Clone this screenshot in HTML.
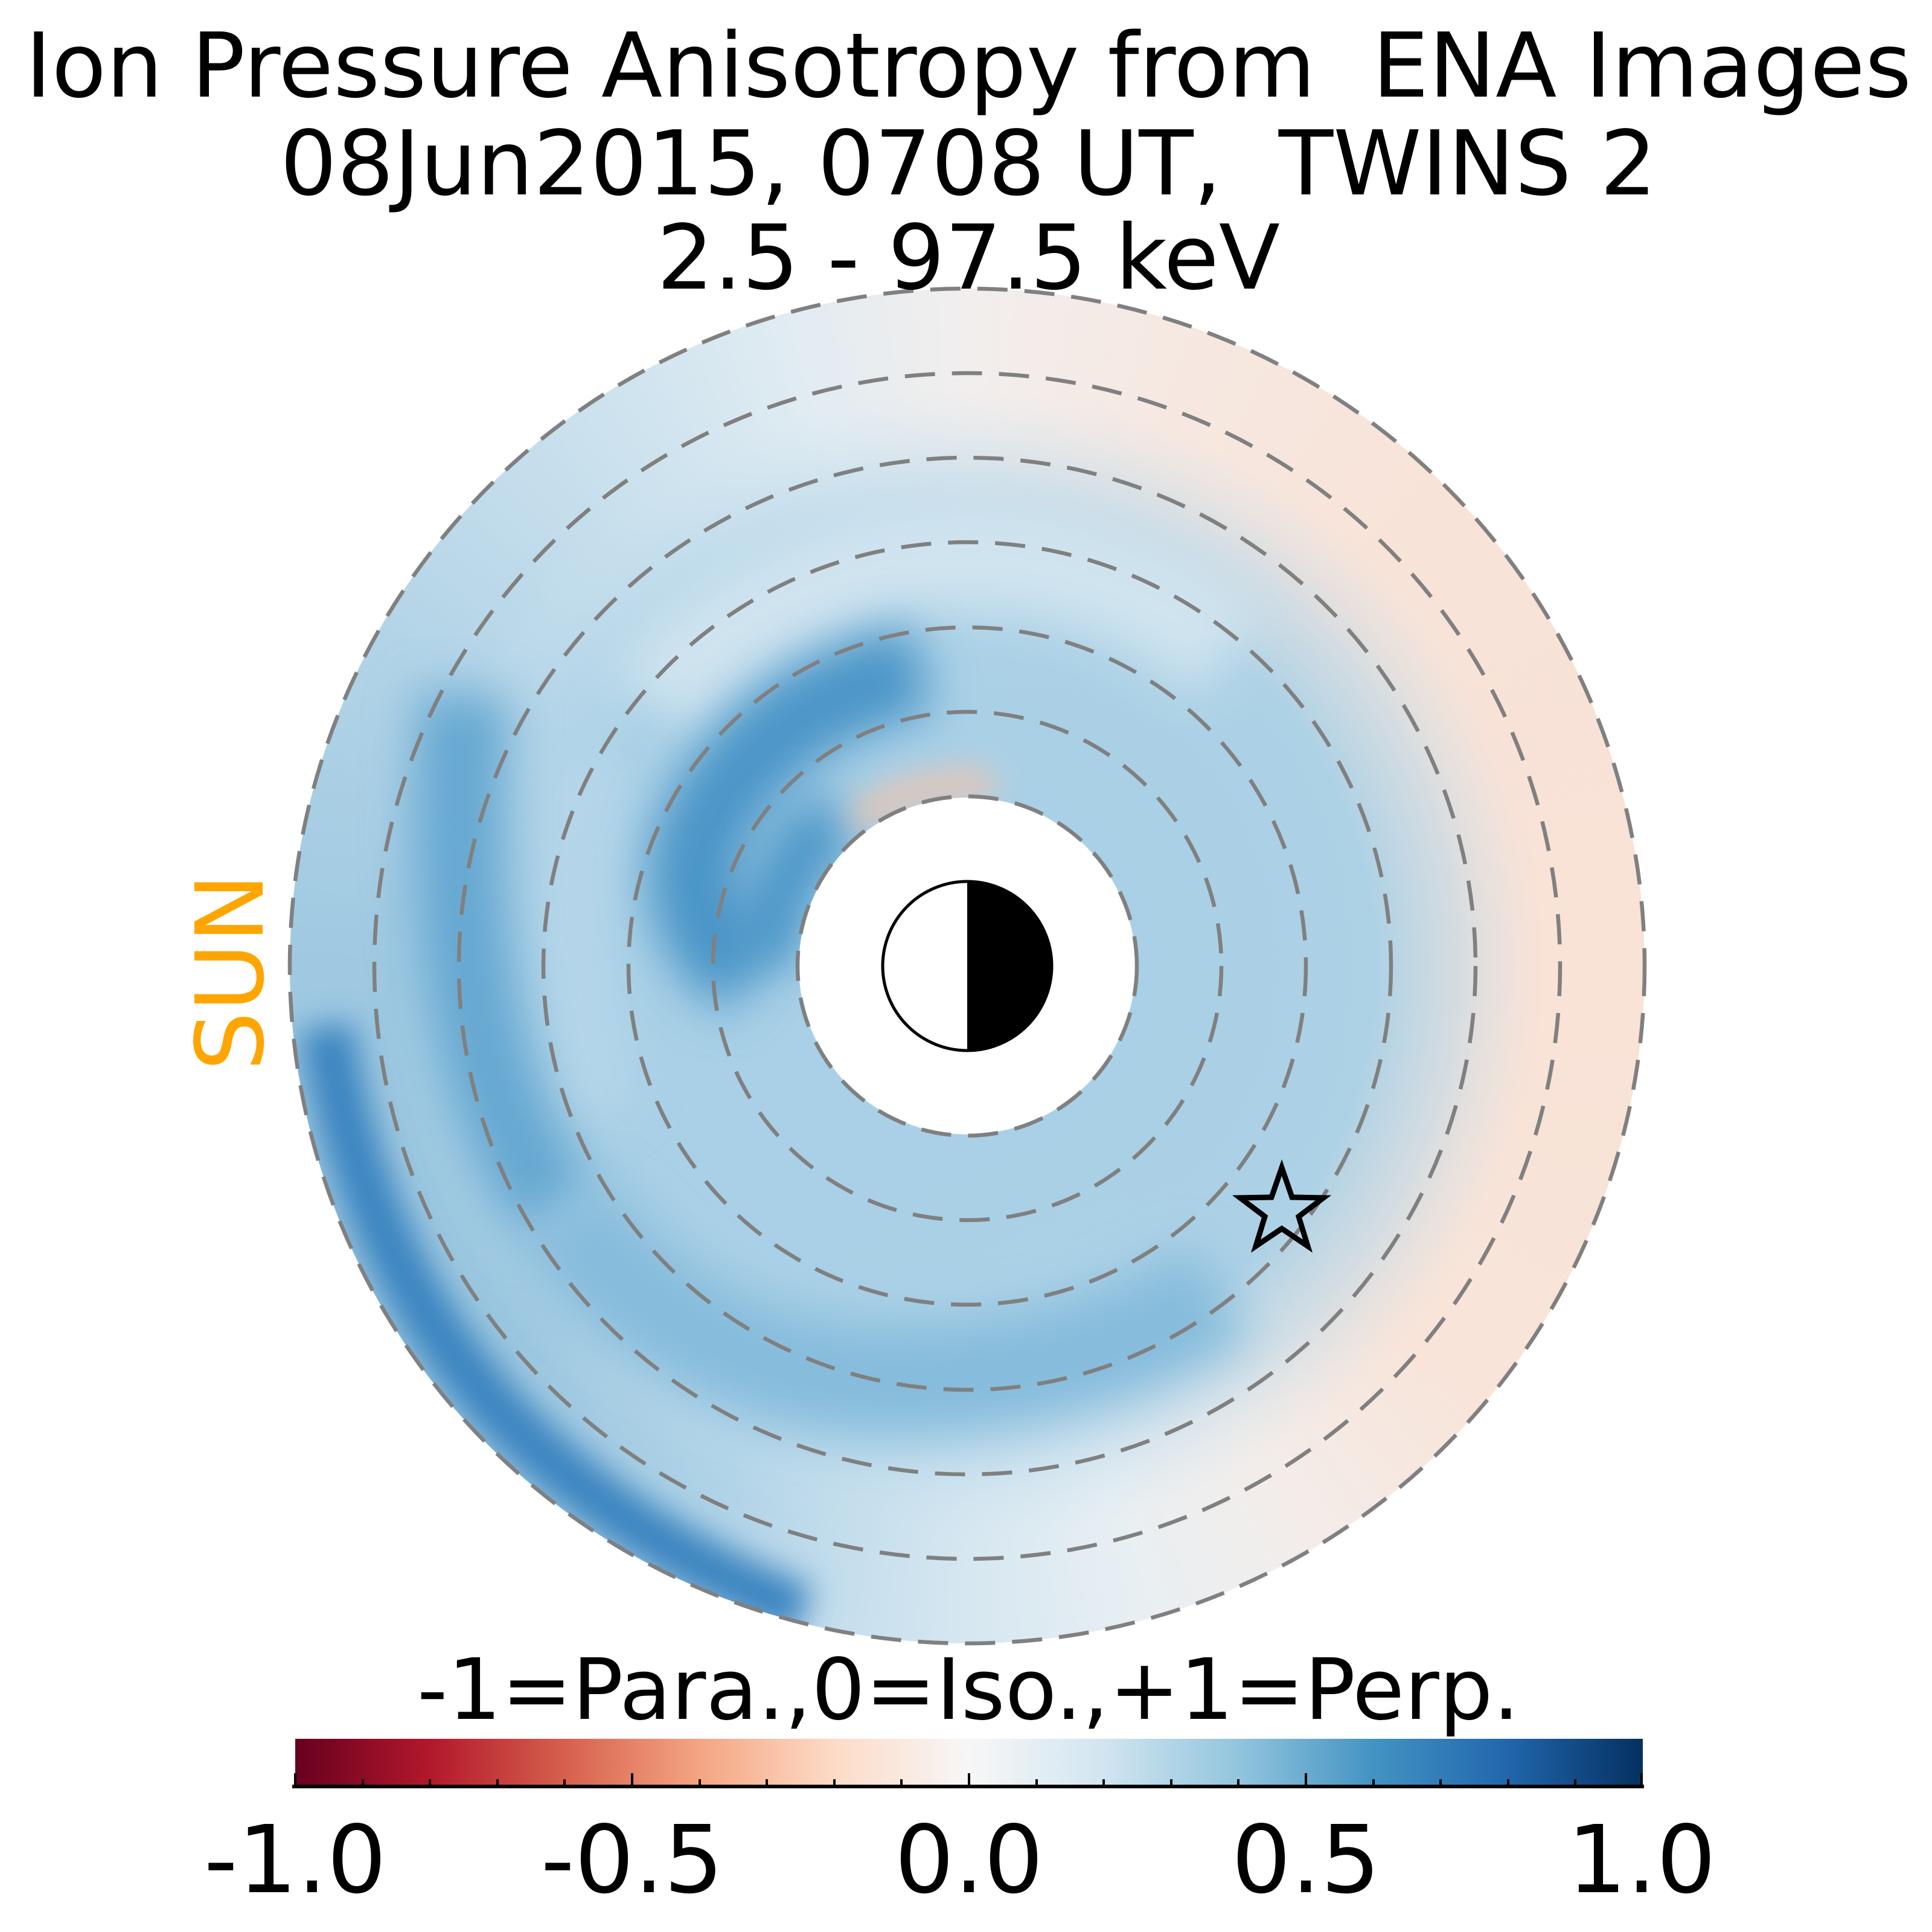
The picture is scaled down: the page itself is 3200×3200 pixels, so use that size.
<!DOCTYPE html>
<html><head><meta charset="utf-8"><style>
html,body{margin:0;padding:0;background:#fff;}
#w{position:relative;width:3200px;height:3200px;overflow:hidden;background:#fff;font-family:"DejaVu Sans","Liberation Sans",sans-serif;}
#base{position:absolute;left:480px;top:478px;width:2244px;height:2244px;border-radius:50%;
background:conic-gradient(from 0deg,#f2eeed 0deg,#f6e8e1 20deg,#f8e3d8 45deg,#f9e2d6 90deg,#f8e4d9 130deg,#f3edea 150deg,#e8eff3 165deg,#d6e7f1 180deg,#b0d3e7 205deg,#9cc7e0 230deg,#9fc9e1 270deg,#b3d4e7 300deg,#d0e4ef 330deg,#e2ecf2 345deg,#f2eeed 360deg);}
svg{position:absolute;left:0;top:0;}
</style></head><body><div id="w">
<div id="base"></div>
<svg width="3200" height="3200" viewBox="0 0 3200 3200">
<defs>
<clipPath id="disk"><circle cx="1602" cy="1600" r="1122"/></clipPath>
<radialGradient id="inner" cx="1602" cy="1600" r="1122" gradientUnits="userSpaceOnUse">
<stop offset="0.25" stop-color="#a9d0e6" stop-opacity="1"/>
<stop offset="0.6" stop-color="#a9d0e6" stop-opacity="0.95"/>
<stop offset="0.72" stop-color="#b5d6e9" stop-opacity="0.55"/>
<stop offset="0.85" stop-color="#d0e4ef" stop-opacity="0"/>
</radialGradient>
<filter id="b1" filterUnits="userSpaceOnUse" x="0" y="0" width="3200" height="3200"><feGaussianBlur stdDeviation="40"/></filter>
<filter id="b2" filterUnits="userSpaceOnUse" x="0" y="0" width="3200" height="3200"><feGaussianBlur stdDeviation="26"/></filter>
</defs>
<g clip-path="url(#disk)">
<circle cx="1602" cy="1600" r="1122" fill="url(#inner)"/>
<path d="M2035,1084 A673,673 0 0 0 1086,1167" fill="none" stroke="#d6e7f1" stroke-width="170" opacity="0.85" filter="url(#b1)"/>
<path d="M1000,1250 Q900,1550 1000,1850" fill="none" stroke="#b9d8ea" stroke-width="120" opacity="0.8" filter="url(#b1)"/>
<path d="M770,1150 Q720,1750 928,2008" fill="none" stroke="#65a7d1" stroke-width="150" filter="url(#b1)"/>
<path d="M928,2008 Q1150,2290 1479,2287 Q1780,2286 2020,2140" fill="none" stroke="#86bcdc" stroke-width="180" filter="url(#b1)"/>
<path d="M540,1700 Q600,2100 848,2360 Q1050,2560 1330,2670" fill="none" stroke="#3a84c0" stroke-width="90" filter="url(#b2)"/>
<path d="M1526,1108 Q1250,1166 1156,1396 Q1126,1536 1246,1616" fill="none" stroke="#4a94c7" stroke-width="150" filter="url(#b1)"/>
<path d="M1386,1346 Q1286,1436 1256,1596" fill="none" stroke="#4a94c7" stroke-width="110" filter="url(#b1)"/>
<path d="M1416,1361 A300,300 0 0 1 1646,1302" fill="none" stroke="#f3c3aa" stroke-width="40" filter="url(#b2)"/>
</g>
<circle cx="1602" cy="1600" r="279" fill="#fff"/>
<g fill="none" stroke="#808080" stroke-width="6.5" stroke-dasharray="50,28">
<circle cx="1602" cy="1600" r="281"/><circle cx="1602" cy="1600" r="421"/><circle cx="1602" cy="1600" r="561"/>
<circle cx="1602" cy="1600" r="702"/><circle cx="1602" cy="1600" r="842"/><circle cx="1602" cy="1600" r="982"/>
<circle cx="1602" cy="1600" r="1122"/>
</g>
<circle cx="1602" cy="1600" r="140" fill="#fff" stroke="#000" stroke-width="5"/>
<path d="M1602,1460 A140,140 0 0 1 1602,1740 Z" fill="#000"/>
<polygon points="2123,1934 2140,1983 2192,1984 2151,2015 2166,2064 2123,2035 2080,2064 2095,2015 2054,1984 2106,1983" fill="none" stroke="#000" stroke-width="9" stroke-linejoin="miter"/>
<g font-family="DejaVu Sans, Liberation Sans, sans-serif" text-anchor="middle">
<text x="1604" y="160" font-size="148">Ion Pressure Anisotropy from &#160;ENA Images</text>
<text x="1604" y="322" font-size="148">08Jun2015, 0708 UT, &#160;TWINS 2</text>
<text x="1604" y="478" font-size="148">2.5 - 97.5 keV</text>
</g>
<text transform="translate(435,1610) rotate(-90)" font-size="155" fill="#ffa500" text-anchor="middle" font-family="DejaVu Sans, Liberation Sans, sans-serif">SUN</text>
<text x="1604" y="2847" font-size="140" text-anchor="middle" font-family="DejaVu Sans, Liberation Sans, sans-serif">-1=Para.,0=Iso.,+1=Perp.</text>
<defs><linearGradient id="cb" x1="0" x2="1" y1="0" y2="0">
<stop offset="0" stop-color="#67001f"/><stop offset="0.1" stop-color="#b2182b"/><stop offset="0.2" stop-color="#d6604d"/>
<stop offset="0.3" stop-color="#f4a582"/><stop offset="0.4" stop-color="#fddbc7"/><stop offset="0.5" stop-color="#f7f7f7"/>
<stop offset="0.6" stop-color="#d1e5f0"/><stop offset="0.7" stop-color="#92c5de"/><stop offset="0.8" stop-color="#4393c3"/>
<stop offset="0.9" stop-color="#2166ac"/><stop offset="1" stop-color="#053061"/></linearGradient></defs>
<rect x="489" y="2880" width="2232" height="78" fill="url(#cb)"/>
<line x1="484" y1="2959" x2="2723" y2="2959" stroke="#000" stroke-width="6"/>
<g stroke="#000" stroke-width="4">
<line x1="489" y1="2937" x2="489" y2="2959"/><line x1="601" y1="2947" x2="601" y2="2959"/><line x1="712" y1="2947" x2="712" y2="2959"/><line x1="824" y1="2947" x2="824" y2="2959"/><line x1="935" y1="2947" x2="935" y2="2959"/>
<line x1="1047" y1="2937" x2="1047" y2="2959"/><line x1="1159" y1="2947" x2="1159" y2="2959"/><line x1="1270" y1="2947" x2="1270" y2="2959"/><line x1="1382" y1="2947" x2="1382" y2="2959"/><line x1="1493" y1="2947" x2="1493" y2="2959"/>
<line x1="1605" y1="2937" x2="1605" y2="2959"/><line x1="1717" y1="2947" x2="1717" y2="2959"/><line x1="1828" y1="2947" x2="1828" y2="2959"/><line x1="1940" y1="2947" x2="1940" y2="2959"/><line x1="2051" y1="2947" x2="2051" y2="2959"/>
<line x1="2163" y1="2937" x2="2163" y2="2959"/><line x1="2275" y1="2947" x2="2275" y2="2959"/><line x1="2386" y1="2947" x2="2386" y2="2959"/><line x1="2498" y1="2947" x2="2498" y2="2959"/><line x1="2609" y1="2947" x2="2609" y2="2959"/>
<line x1="2719" y1="2937" x2="2719" y2="2959"/>
</g>
<g font-size="155" text-anchor="middle" font-family="DejaVu Sans, Liberation Sans, sans-serif">
<text x="489" y="3134">-1.0</text><text x="1047" y="3134">-0.5</text><text x="1605" y="3134">0.0</text><text x="2163" y="3134">0.5</text><text x="2719" y="3134">1.0</text>
</g>
</svg>
</div></body></html>
